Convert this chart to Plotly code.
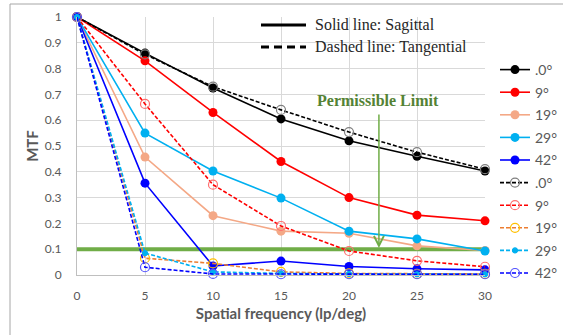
import plotly.graph_objects as go

freq = [0, 5, 10, 15, 20, 25, 30]
angles = [".0°", "9°", "19°", "29°", "42°"]

sag_0 = [1, 0.86, 0.725, 0.605, 0.52, 0.46, 0.403]
sag_9 = [1, 0.83, 0.63, 0.44, 0.30, 0.232, 0.21]
sag_19 = [1, 0.457, 0.23, 0.17, 0.162, 0.113, 0.095]
sag_29 = [1, 0.55, 0.403, 0.298, 0.17, 0.14, 0.093]
sag_42 = [1, 0.356, 0.035, 0.054, 0.033, 0.024, 0.02]

tan_0 = [1, 0.855, 0.73, 0.64, 0.554, 0.476, 0.41]
tan_9 = [1, 0.663, 0.35, 0.19, 0.093, 0.055, 0.032]
tan_19 = [1, 0.065, 0.045, 0.012, 0.006, 0.004, 0.004]
tan_29 = [1, 0.085, 0.012, 0.006, 0.004, 0.003, 0.003]
tan_42 = [1, 0.03, 0.004, 0.003, 0.003, 0.003, 0.003]

limit_x = [0, 30]
limit_y = [0.1, 0.1]
arrow_x = 22.2
arrow_y = 0.105

y_ticks = [0, 0.1, 0.2, 0.3, 0.4, 0.5, 0.6, 0.7, 0.8, 0.9, 1]
y_tick_text = ["0", "0.1", "0.2", "0.3", "0.4", "0.5", "0.6", "0.7", "0.8", "0.9", "1"]
x_ticks = [0, 5, 10, 15, 20, 25, 30]

W, H = 563, 335
L, R, T, B = 77, 485, 17, 275


def px(x):
    return (x - L) / (R - L)


def py(y):
    return (B - y) / (B - T)


fig = go.Figure()

fig.add_trace(go.Scatter(x=limit_x, y=limit_y, mode="lines",
                         line=dict(color="#70AD47", width=4),
                         showlegend=False, hoverinfo="skip"))

sag = [sag_0, sag_9, sag_19, sag_29, sag_42]
sag_colors = ["#000000", "#FF0000", "#F4A886", "#00B0F0", "#0000FF"]
for i, (name, vals, col) in enumerate(zip(angles, sag, sag_colors)):
    fig.add_trace(go.Scatter(
        x=freq, y=vals, name=name, mode="lines+markers", legendgroup="s%d" % i,
        line=dict(color=col, width=1.6),
        marker=dict(color=col, size=9, symbol="circle"),
        cliponaxis=False))

tan = [tan_0, tan_9, tan_19, tan_29, tan_42]
tan_line = ["#000000", "#FF0000", "#ED7D31", "#00B0F0", "#0000FF"]
tan_marker = ["#7F7F7F", "#FF6F6F", "#FFC000", "#00B0F0", "#5050FF"]
tan_symbol = ["circle-open", "circle-open", "circle-open", "circle", "circle-open"]
tan_size = [9, 9, 9, 5, 9]
for i, (name, vals, lc, mc, sym, sz) in enumerate(zip(angles, tan, tan_line, tan_marker, tan_symbol, tan_size)):
    fig.add_trace(go.Scatter(
        x=freq, y=vals, name=name, mode="lines+markers", legendgroup="t%d" % i,
        line=dict(color=lc, width=1.6, dash="4px,2px"),
        marker=dict(color=mc, size=sz, symbol=sym, line=dict(width=1.2, color=mc)),
        cliponaxis=False))

shapes = [
    # outer chart border (cropped)
    dict(type="rect", xref="paper", yref="paper",
         x0=px(10), x1=px(600), y0=py(360), y1=py(4),
         line=dict(color="#A6A6A6", width=1), fillcolor="rgba(0,0,0,0)", layer="below"),
    # white box behind the line-style note
    dict(type="rect", xref="paper", yref="paper",
         x0=px(306), x1=px(483), y0=py(60), y1=py(13),
         line=dict(width=0), fillcolor="white", layer="between"),
    dict(type="line", xref="paper", yref="paper",
         x0=px(261), x1=px(306), y0=py(25), y1=py(25),
         line=dict(color="black", width=3)),
    dict(type="line", xref="paper", yref="paper",
         x0=px(261), x1=px(306), y0=py(47), y1=py(47),
         line=dict(color="black", width=3, dash="8px,5px")),
]

annotations = [
    dict(xref="paper", yref="paper", x=px(313), y=py(25), xanchor="left", yanchor="middle",
         text="Solid line: Sagittal", showarrow=False,
         font=dict(family="Liberation Serif", size=16, color="#262626")),
    dict(xref="paper", yref="paper", x=px(313), y=py(47), xanchor="left", yanchor="middle",
         text="Dashed line: Tangential", showarrow=False,
         font=dict(family="Liberation Serif", size=16, color="#262626")),
    dict(xref="paper", yref="paper", x=px(378), y=py(100), xanchor="center", yanchor="middle",
         text="<b>Permissible Limit</b>", showarrow=False,
         font=dict(family="Liberation Serif", size=16, color="#548235")),
    dict(x=arrow_x, y=arrow_y, xref="x", yref="y", text="", showarrow=True,
         ax=0, ay=-(B - 113 - (arrow_y * (B - T))), axref="pixel", ayref="pixel",
         arrowhead=5, arrowsize=1.3, arrowwidth=1.5, arrowcolor="#70AD47", standoff=0),
]

fig.update_layout(
    width=W, height=H,
    margin=dict(l=L, r=W - R, t=T, b=H - B, autoexpand=False),
    paper_bgcolor="white", plot_bgcolor="white",
    font=dict(family="Lato", color="#595959", size=12),
    shapes=shapes, annotations=annotations,
    legend=dict(x=px(495), y=py(54), xanchor="left", yanchor="top",
                font=dict(family="Lato", size=14, color="#595959"),
                bgcolor="rgba(0,0,0,0)", tracegroupgap=1.4, itemwidth=30),
    xaxis=dict(range=[0, 30], tickvals=x_ticks, showgrid=True, gridcolor="#D9D9D9",
               showline=True, linecolor="#BFBFBF", linewidth=1, zeroline=False,
               ticks="", ticklabelstandoff=10, tickfont=dict(size=12, color="#595959"),
               title=dict(text="<b>Spatial frequency (lp/deg)</b>", standoff=6,
                          font=dict(family="Lato", size=15, color="#595959")),
               automargin=False),
    yaxis=dict(range=[0, 1], tickvals=y_ticks, ticktext=y_tick_text, showgrid=True,
               gridcolor="#D9D9D9", showline=True, linecolor="#BFBFBF", linewidth=1,
               zeroline=False, ticks="", ticklabelstandoff=12,
               tickfont=dict(size=12, color="#595959"),
               title=dict(text="<b>MTF</b>", standoff=2,
                          font=dict(family="Lato", size=15, color="#595959")),
               automargin=False),
)

fig.write_html("out.html", config={"displayModeBar": False},
               post_script="document.body.style.margin='0';")
